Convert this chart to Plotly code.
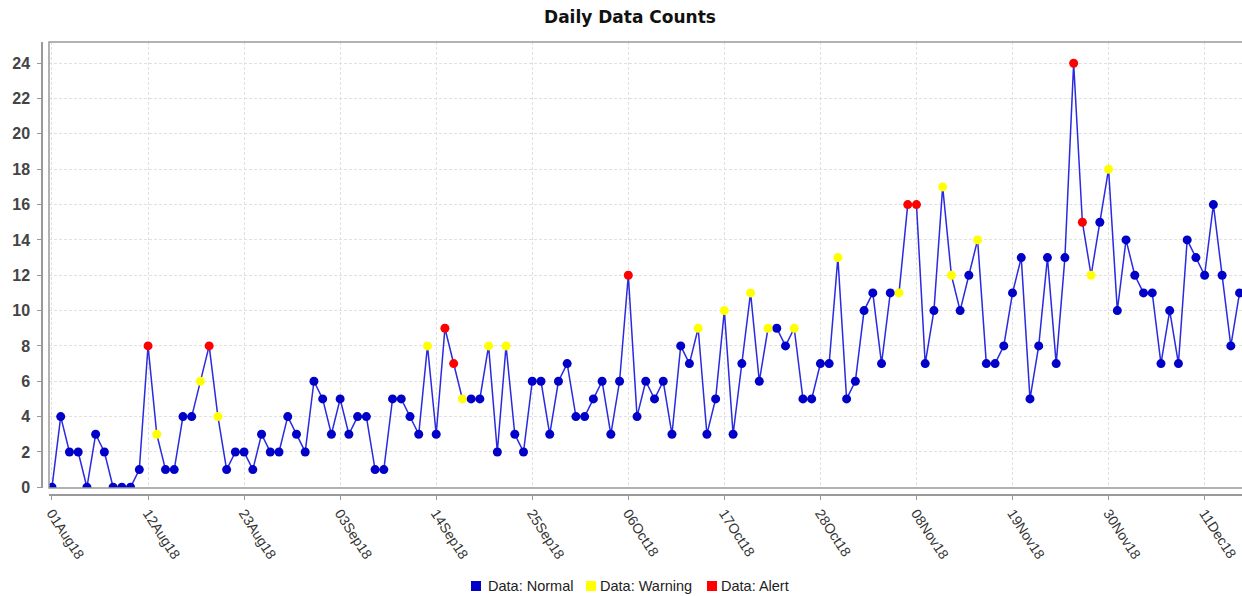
import pandas as pd
import plotly.graph_objects as go

# ---------------- data ----------------
start_date = "2018-08-01"
end_date = "2018-12-15"

aug_counts = [0, 4, 2, 2, 0, 3, 2, 0, 0, 0, 1, 8, 3, 1, 1, 4, 4, 6, 8, 4,
              1, 2, 2, 1, 3, 2, 2, 4, 3, 2, 6]
sep_counts = [5, 3, 5, 3, 4, 4, 1, 1, 5, 5, 4, 3, 8, 3, 9, 7, 5, 5, 5, 8,
              2, 8, 3, 2, 6, 6, 3, 6, 7, 4]
oct_counts = [4, 5, 6, 3, 6, 12, 4, 6, 5, 6, 3, 8, 7, 9, 3, 5, 10, 3, 7, 11,
              6, 9, 9, 8, 9, 5, 5, 7, 7, 13, 5]
nov_counts = [6, 10, 11, 7, 11, 11, 16, 16, 7, 10, 17, 12, 10, 12, 14, 7, 7, 8, 11, 13,
              5, 8, 13, 7, 13, 24, 15, 12, 15, 18]
dec_counts = [10, 14, 12, 11, 11, 7, 10, 7, 14, 13, 12, 16, 12, 8, 11]

warning_days = ["2018-08-13", "2018-08-18", "2018-08-20", "2018-09-13", "2018-09-17",
                "2018-09-20", "2018-09-22", "2018-10-14", "2018-10-17", "2018-10-20",
                "2018-10-22", "2018-10-25", "2018-10-30", "2018-11-06", "2018-11-11",
                "2018-11-12", "2018-11-15", "2018-11-28", "2018-11-30"]
alert_days = ["2018-08-12", "2018-08-19", "2018-09-15", "2018-09-16", "2018-10-06",
              "2018-11-07", "2018-11-08", "2018-11-26", "2018-11-27"]

series_names = ["Data: Normal", "Data: Warning", "Data: Alert"]
series_colors = ["#0000C8", "#FFFF00", "#FF0000"]

# ---------------- build ----------------
dates = pd.date_range(start_date, end_date, freq="D")
counts = aug_counts + sep_counts + oct_counts + nov_counts + dec_counts
df = pd.DataFrame({"date": dates, "count": counts})
ds = df["date"].dt.strftime("%Y-%m-%d")
df["status"] = "Data: Normal"
df.loc[ds.isin(warning_days), "status"] = "Data: Warning"
df.loc[ds.isin(alert_days), "status"] = "Data: Alert"

fig = go.Figure()
fig.add_trace(go.Scatter(x=df["date"], y=df["count"], mode="lines",
                         line=dict(color="#2A2AE0", width=1.5),
                         showlegend=False, hoverinfo="skip"))
for name, col in zip(series_names, series_colors):
    sub = df[df["status"] == name]
    fig.add_trace(go.Scatter(x=sub["date"], y=sub["count"], mode="markers",
                             marker=dict(color=col, size=9, line=dict(width=0)),
                             name=name, showlegend=False))

W, H = 1242, 596
ml, mt, mb, mr = 42, 42, 101, 0
pw = W - ml - mr
ph = H - mt - mb
xr0 = pd.Timestamp(start_date) - pd.Timedelta(hours=8.2)
xr1 = pd.Timestamp(end_date) + pd.Timedelta(hours=6.7)

# manual legend (square swatch + label), placed in pixel terms
legend_swatch_px = [471, 586, 707]
legend_text_px = [486, 598, 719]
leg_y = 586
shapes = [dict(type="rect", xref="x domain", yref="y domain", x0=0, x1=1.02, y0=0, y1=1,
               line=dict(color="#999", width=1.5), layer="above")]
annotations = []
for name, col, sx, tx in zip(series_names, series_colors, legend_swatch_px, legend_text_px):
    shapes.append(dict(type="rect", xref="paper", yref="paper",
                       x0=(sx - ml) / pw, x1=(sx + 10 - ml) / pw,
                       y0=(H - mb - (leg_y + 5)) / ph, y1=(H - mb - (leg_y - 5)) / ph,
                       fillcolor=col, line=dict(width=0)))
    annotations.append(dict(text=name, xref="paper", yref="paper",
                            x=(tx - ml) / pw, y=(H - mb - leg_y) / ph,
                            xanchor="left", yanchor="middle", showarrow=False,
                            font=dict(size=14.5, color="#222")))

fig.update_layout(
    width=W, height=H, autosize=False,
    margin=dict(l=ml, r=mr, t=mt, b=mb, pad=0),
    paper_bgcolor="white", plot_bgcolor="white",
    font=dict(family="Liberation Sans, Arial, sans-serif", color="#333"),
    showlegend=False,
    title=dict(text="<b>Daily Data Counts</b>", xref="container", yref="container",
               x=630 / W, xanchor="center", y=1 - 16.9 / H, yanchor="middle",
               font=dict(family="DejaVu Sans", size=17, color="#111")),
    xaxis=dict(type="date", domain=[7 / pw, 1], range=[xr0, xr1],
               anchor="free", position=0,
               tick0=start_date, dtick=11 * 86400000, tickformat="%d%b%y",
               tickangle=57, tickfont=dict(size=14, color="#333"),
               ticks="outside", ticklen=4, tickcolor="#999",
               showline=True, linecolor="#999", linewidth=1.5,
               showgrid=True, gridcolor="#E0E0E0", griddash="3px,2px", gridwidth=1,
               zeroline=False),
    yaxis=dict(domain=[7 / ph, 1], range=[-0.04, 25.2], anchor="free", position=0,
               tick0=0, dtick=2,
               tickfont=dict(size=16, color="#444", family="Liberation Sans, Arial"),
               ticks="outside", ticklen=4, tickcolor="#999", ticklabelstandoff=4,
               tickprefix="<b>", ticksuffix="</b>",
               showline=True, linecolor="#999", linewidth=1.5,
               showgrid=True, gridcolor="#E0E0E0", griddash="3px,2px", gridwidth=1,
               zeroline=False),
    shapes=shapes,
    annotations=annotations,
)

fig.write_html("out.html", config={"displayModeBar": False},
               post_script="document.body.style.margin='0';")
